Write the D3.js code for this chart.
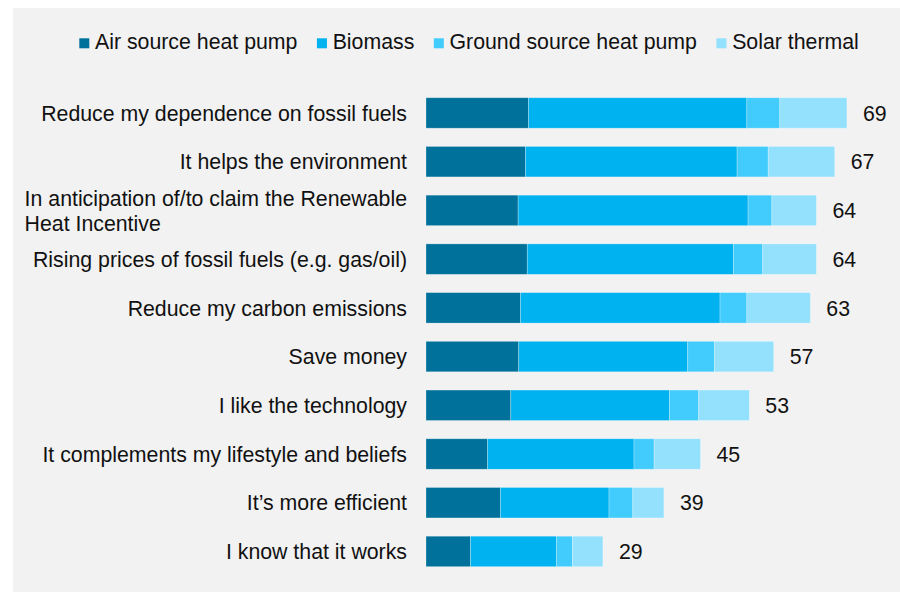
<!DOCTYPE html>
<html>
<head>
<meta charset="utf-8">
<script src="https://cdn.jsdelivr.net/npm/d3@7"></script>
<style>
  html, body { margin: 0; padding: 0; background: #ffffff; }
  svg { display: block; font-family: "Liberation Sans", Arial, sans-serif; }
</style>
</head>
<body>
<svg id="chart" width="900" height="593"></svg>
<script>
// Reasons given for installing a renewable heating system, by technology (%)
const categories = [
  "Reduce my dependence on fossil fuels",
  "It helps the environment",
  "In anticipation of/to claim the Renewable\nHeat Incentive",
  "Rising prices of fossil fuels (e.g. gas/oil)",
  "Reduce my carbon emissions",
  "Save money",
  "I like the technology",
  "It complements my lifestyle and beliefs",
  "It\u2019s more efficient",
  "I know that it works"
];
const seriesNames = ["Air source heat pump", "Biomass", "Ground source heat pump", "Solar thermal"];
const airSource   = [16.8, 16.3, 15.1, 16.6, 15.5, 15.2, 13.9, 10.1, 12.2, 7.3];
const biomass     = [35.8, 34.7, 37.7, 33.8, 32.7, 27.7, 26.0, 24.0, 17.8, 14.1];
const groundSource= [5.4, 5.1, 3.9, 4.8, 4.4, 4.4, 4.8, 3.3, 3.9, 2.6];
const solarThermal= [11.0, 10.9, 7.3, 8.8, 10.4, 9.7, 8.3, 7.6, 5.1, 5.0];
const totals      = [69, 67, 64, 64, 63, 57, 53, 45, 39, 29];
const colors = ["#00719a", "#00b2ef", "#42ccfe", "#94e1fe"];

const rows = categories.map((c, i) => ({
  category: c,
  "Air source heat pump": airSource[i],
  "Biomass": biomass[i],
  "Ground source heat pump": groundSource[i],
  "Solar thermal": solarThermal[i],
  total: totals[i]
}));

const svg = d3.select("#chart");
const FONT = 21.3;

// background panel
svg.append("rect")
  .attr("x", 13).attr("y", 8).attr("width", 887).attr("height", 584)
  .attr("fill", "#f2f2f2");

const x = d3.scaleLinear().domain([0, 69]).range([426, 426 + 69 * 6.1]);
const y = d3.scaleBand().domain(categories).range([88.6, 575.8])
  .paddingInner(0.375).paddingOuter(0.1875);

const stacked = d3.stack().keys(seriesNames)(rows);
const color = d3.scaleOrdinal().domain(seriesNames).range(colors);

svg.append("g").selectAll("g")
  .data(stacked).join("g")
  .attr("fill", d => color(d.key))
  .selectAll("rect")
  .data(d => d).join("rect")
  .attr("x", d => x(d[0]))
  .attr("width", d => x(d[1]) - x(d[0]))
  .attr("y", d => y(d.data.category))
  .attr("height", y.bandwidth())
  .attr("stroke", "rgba(255,255,255,0.35)")
  .attr("stroke-width", 0.75);

// total value labels
svg.append("g").selectAll("text")
  .data(rows).join("text")
  .attr("x", d => x(d.total) + 16)
  .attr("y", d => y(d.category) + y.bandwidth() / 2)
  .attr("dy", "0.36em")
  .attr("font-size", FONT)
  .attr("fill", "#111")
  .text(d => d.total);

// category labels (right-aligned block, multi-line blocks left-aligned inside)
const labelRight = 407;
const labels = svg.append("g");
rows.forEach(d => {
  const lines = d.category.split("\n");
  const cy = y(d.category) + y.bandwidth() / 2;
  const lh = 25;
  const t = labels.append("text")
    .attr("font-size", FONT)
    .attr("fill", "#111");
  lines.forEach((ln, k) => {
    t.append("tspan")
      .attr("y", cy + (k - (lines.length - 1) / 2) * lh)
      .attr("dy", "0.36em")
      .text(ln);
  });
  const widths = t.selectAll("tspan").nodes().map(n => n.getComputedTextLength());
  const w = d3.max(widths);
  t.selectAll("tspan").attr("x", labelRight - w);
});

// legend
const legend = svg.append("g");
let lx = 79.3;
seriesNames.forEach((name, i) => {
  legend.append("rect")
    .attr("x", lx).attr("y", 38.3).attr("width", 10).attr("height", 10)
    .attr("fill", colors[i]);
  const t = legend.append("text")
    .attr("x", lx + 15.7).attr("y", 49.3)
    .attr("font-size", FONT)
    .attr("fill", "#111")
    .text(name);
  lx += 15.7 + t.node().getComputedTextLength() + 19.5;
});
</script>
</body>
</html>
